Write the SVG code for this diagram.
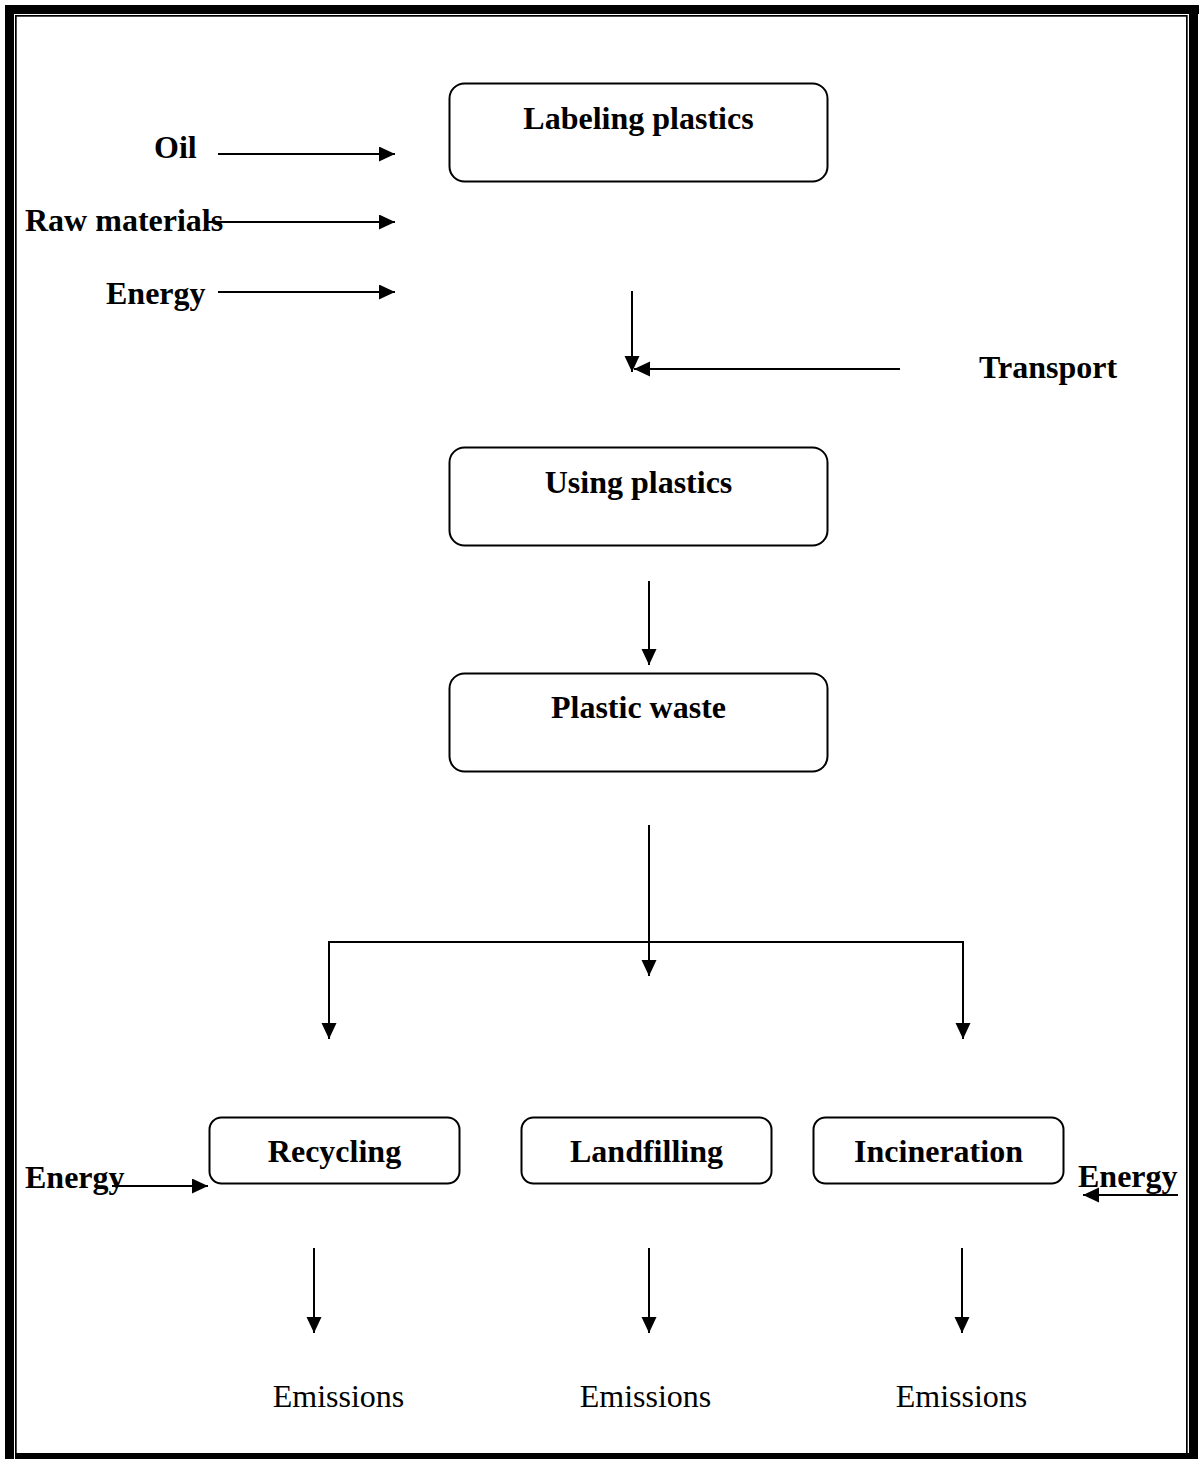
<svg xmlns="http://www.w3.org/2000/svg" width="1203" height="1459" viewBox="0 0 1203 1459">
<style>
.box{fill:#fff;stroke:#000;stroke-width:2}
.ln{fill:none;stroke:#000;stroke-width:2}
.b{font-family:"Liberation Serif","Times New Roman",serif;font-weight:bold;font-size:32px;fill:#000}
.r{font-family:"Liberation Serif","Times New Roman",serif;font-size:32px;fill:#000}
.c{text-anchor:middle}
</style>
<defs>
<marker id="ah" markerUnits="userSpaceOnUse" markerWidth="18" markerHeight="18" refX="16" refY="7.5" orient="auto">
<path d="M0,0 L16,7.5 L0,15 z" fill="#000"/>
</marker>
</defs>
<rect width="1203" height="1459" fill="#fff"/>
<g id="border" fill="#000">
<rect x="5" y="5" width="9" height="1454"/>
<rect x="5" y="5" width="1194" height="9"/>
<rect x="1189" y="5" width="9" height="1454"/>
<rect x="16" y="1453" width="1182" height="6"/>
<rect x="15" y="15" width="1.7" height="1444"/>
<rect x="15" y="15" width="1172" height="1.7"/>
<rect x="1186" y="15" width="1.7" height="1438"/>
</g>
<g id="connectors">
<line class="ln" x1="218" y1="154" x2="395" y2="154" marker-end="url(#ah)"/>
<line class="ln" x1="205" y1="222" x2="395" y2="222" marker-end="url(#ah)"/>
<line class="ln" x1="218" y1="292" x2="395" y2="292" marker-end="url(#ah)"/>
<line class="ln" x1="632" y1="291" x2="632" y2="372" marker-end="url(#ah)"/>
<line class="ln" x1="900" y1="369" x2="634" y2="369" marker-end="url(#ah)"/>
<line class="ln" x1="649" y1="581" x2="649" y2="665" marker-end="url(#ah)"/>
<line class="ln" x1="649" y1="825" x2="649" y2="976" marker-end="url(#ah)"/>
<polyline class="ln" points="329,1039 329,942 963,942 963,1039"/>
<line class="ln" x1="329" y1="1000" x2="329" y2="1039" marker-end="url(#ah)"/>
<line class="ln" x1="963" y1="1000" x2="963" y2="1039" marker-end="url(#ah)"/>
<line class="ln" x1="112" y1="1186" x2="208" y2="1186" marker-end="url(#ah)"/>
<line class="ln" x1="1178" y1="1195" x2="1083" y2="1195" marker-end="url(#ah)"/>
<line class="ln" x1="314" y1="1248" x2="314" y2="1333" marker-end="url(#ah)"/>
<line class="ln" x1="649" y1="1248" x2="649" y2="1333" marker-end="url(#ah)"/>
<line class="ln" x1="962" y1="1248" x2="962" y2="1333" marker-end="url(#ah)"/>
</g>
<g id="labeling">
<rect class="box" x="449.5" y="83.5" width="378" height="98" rx="15"/>
<text class="b c" x="638.5" y="129">Labeling plastics</text>
</g>
<g id="using">
<rect class="box" x="449.5" y="447.5" width="378" height="98" rx="15"/>
<text class="b c" x="638.5" y="493">Using plastics</text>
</g>
<g id="waste">
<rect class="box" x="449.5" y="673.5" width="378" height="98" rx="15"/>
<text class="b c" x="638.5" y="718">Plastic waste</text>
</g>
<g id="recycling">
<rect class="box" x="209.5" y="1117.5" width="250" height="66" rx="12"/>
<text class="b c" x="334.5" y="1162">Recycling</text>
</g>
<g id="landfilling">
<rect class="box" x="521.5" y="1117.5" width="250" height="66" rx="12"/>
<text class="b c" x="646.5" y="1162">Landfilling</text>
</g>
<g id="incineration">
<rect class="box" x="813.5" y="1117.5" width="250" height="66" rx="12"/>
<text class="b c" x="938.5" y="1162">Incineration</text>
</g>
<g id="labels">
<text class="b" x="154" y="158">Oil</text>
<text class="b" x="25" y="231">Raw materials</text>
<text class="b" x="106" y="304">Energy</text>
<text class="b" x="979" y="378">Transport</text>
<text class="b" x="25" y="1188">Energy</text>
<text class="b" x="1078" y="1187">Energy</text>
<text class="r c" x="338.5" y="1407">Emissions</text>
<text class="r c" x="645.5" y="1407">Emissions</text>
<text class="r c" x="961.5" y="1407">Emissions</text>
</g>
</svg>
